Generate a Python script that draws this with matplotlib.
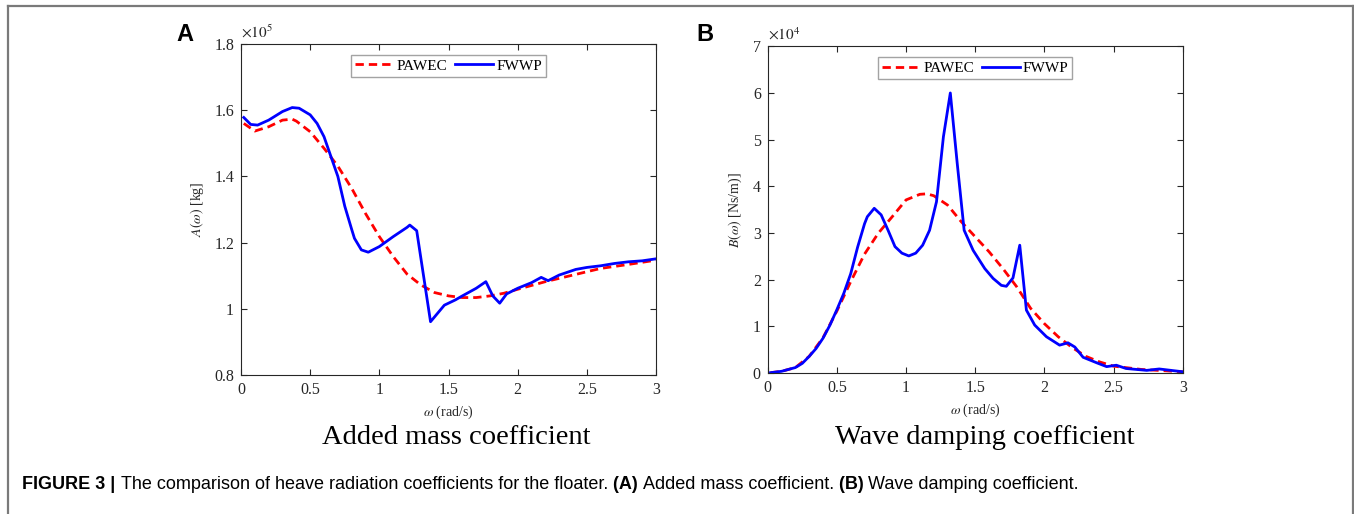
import matplotlib
matplotlib.use("Agg")
import matplotlib.pyplot as plt
from matplotlib.lines import Line2D

plt.rcParams["mathtext.fontset"] = "stix"

# Panel A: added mass, values in units of 1e5 kg
a_fwwp_w = [0.02, 0.07, 0.12, 0.2, 0.3, 0.37, 0.42, 0.5, 0.55, 0.6, 0.65, 0.7, 0.75, 0.8,
            0.82, 0.87, 0.92, 1.0, 1.1, 1.2, 1.22, 1.27, 1.37, 1.42, 1.47, 1.55, 1.6, 1.7,
            1.77, 1.82, 1.87, 1.92, 2.0, 2.1, 2.17, 2.22, 2.3, 2.42, 2.5, 2.6, 2.7, 2.8,
            2.9, 3.0]
a_fwwp = [1.578, 1.557, 1.555, 1.570, 1.596, 1.608, 1.606, 1.586, 1.560, 1.520, 1.460,
          1.400, 1.310, 1.240, 1.213, 1.178, 1.171, 1.188, 1.218, 1.246, 1.253, 1.236,
          0.961, 0.986, 1.011, 1.027, 1.039, 1.062, 1.082, 1.039, 1.017, 1.045, 1.062,
          1.079, 1.095, 1.085, 1.102, 1.119, 1.125, 1.130, 1.137, 1.142, 1.145, 1.151]
a_pawec_w = [0.02, 0.1, 0.2, 0.3, 0.37, 0.4, 0.5, 0.6, 0.7, 0.8, 0.9, 1.0, 1.1, 1.2, 1.3,
             1.4, 1.5, 1.6, 1.7, 1.8, 1.9, 2.0, 2.2, 2.4, 2.6, 2.8, 3.0]
a_pawec = [1.560, 1.537, 1.550, 1.570, 1.573, 1.567, 1.535, 1.485, 1.431, 1.364, 1.288,
           1.218, 1.158, 1.105, 1.072, 1.049, 1.039, 1.034, 1.034, 1.039, 1.047, 1.059,
           1.082, 1.102, 1.122, 1.134, 1.147]

# Panel B: wave damping, values in units of 1e4 Ns/m
b_fwwp_w = [0.02, 0.1, 0.2, 0.25, 0.3, 0.35, 0.4, 0.45, 0.5, 0.55, 0.6, 0.65, 0.7, 0.72,
            0.77, 0.82, 0.87, 0.92, 0.97, 1.02, 1.07, 1.12, 1.17, 1.22, 1.27, 1.32, 1.37,
            1.42, 1.485, 1.569, 1.629, 1.689, 1.725, 1.773, 1.822, 1.87, 1.93, 2.015,
            2.11, 2.17, 2.22, 2.28, 2.38, 2.45, 2.52, 2.59, 2.74, 2.83, 3.0]
b_fwwp = [0.01, 0.04, 0.12, 0.21, 0.36, 0.53, 0.75, 1.03, 1.36, 1.71, 2.13, 2.7, 3.2,
          3.35, 3.53, 3.39, 3.06, 2.71, 2.57, 2.51, 2.57, 2.74, 3.06, 3.67, 5.06, 6.0,
          4.49, 3.06, 2.63, 2.24, 2.03, 1.88, 1.86, 2.04, 2.74, 1.35, 1.03, 0.78, 0.60,
          0.65, 0.56, 0.34, 0.22, 0.14, 0.17, 0.10, 0.06, 0.09, 0.03]
b_pawec_w = [0.02, 0.1, 0.2, 0.3, 0.4, 0.5, 0.6, 0.7, 0.8, 0.9, 1.0, 1.1, 1.15, 1.2, 1.3,
             1.4, 1.5, 1.6, 1.7, 1.8, 1.9, 2.0, 2.1, 2.2, 2.3, 2.4, 2.5, 2.7, 3.0]
b_pawec = [0.01, 0.04, 0.12, 0.36, 0.76, 1.33, 1.96, 2.55, 3.0, 3.35, 3.71, 3.83, 3.84,
           3.8, 3.6, 3.24, 2.92, 2.6, 2.24, 1.85, 1.39, 1.06, 0.78, 0.55, 0.36, 0.24,
           0.15, 0.08, 0.03]

x_ticks = [0, 0.5, 1, 1.5, 2, 2.5, 3]
x_tick_labels = ["0", "0.5", "1", "1.5", "2", "2.5", "3"]
a_ticks = [0.8, 1.0, 1.2, 1.4, 1.6, 1.8]
a_tick_labels = ["0.8", "1", "1.2", "1.4", "1.6", "1.8"]
b_ticks = [0, 1, 2, 3, 4, 5, 6, 7]
b_tick_labels = ["0", "1", "2", "3", "4", "5", "6", "7"]

caption = "The comparison of heave radiation coefficients for the floater. "

serif = "Liberation Serif"
sans = "Liberation Sans"
axcol = "#262626"

fig = plt.figure(figsize=(13.54, 5.14), dpi=100)


def style_axes(ax, yticks, ylabels, ylim):
    ax.set_xlim(0, 3)
    ax.set_ylim(*ylim)
    ax.set_xticks(x_ticks)
    ax.set_xticklabels(x_tick_labels, family=serif, fontsize=11.5, color=axcol)
    ax.set_yticks(yticks)
    ax.set_yticklabels(ylabels, family=serif, fontsize=11.5, color=axcol)
    ax.tick_params(direction="in", top=True, right=True, length=4, width=0.8,
                   color=axcol, pad=5)
    for s in ax.spines.values():
        s.set_color(axcol)
        s.set_linewidth(0.8)


def add_legend(ax):
    leg = ax.legend(loc="upper center", bbox_to_anchor=(0.5, 0.98), ncol=2,
                    prop={"family": serif, "size": 11}, frameon=True, fancybox=False,
                    handlelength=2.5, handletextpad=0.2, columnspacing=0.5,
                    borderpad=0.25, borderaxespad=0.3)
    leg.get_frame().set_edgecolor("#8c8c8c")
    leg.get_frame().set_linewidth(1.0)


# Panel A
axA = fig.add_axes([0.178, 0.2704, 0.3065, 0.644])
axA.plot(a_pawec_w, a_pawec, color="red", ls=(0, (3, 1.8)), lw=2.0, label="PAWEC")
axA.plot(a_fwwp_w, a_fwwp, color="#0000ff", lw=2.0, label="FWWP")
style_axes(axA, a_ticks, a_tick_labels, (0.8, 1.8))
axA.set_xlabel(r"$\omega$ (rad/s)", family=serif, fontsize=10, color=axcol, labelpad=4)
axA.set_ylabel(r"$A(\omega)$ [kg]", family=serif, fontsize=10, color=axcol, labelpad=6)
axA.text(0.0, 1.01, r"$\times10^5$", transform=axA.transAxes, family=serif,
         fontsize=11, color=axcol, va="bottom", ha="left")
add_legend(axA)

# Panel B
axB = fig.add_axes([0.567, 0.274, 0.3065, 0.636])
axB.plot(b_pawec_w, b_pawec, color="red", ls=(0, (3, 1.8)), lw=2.0, label="PAWEC")
axB.plot(b_fwwp_w, b_fwwp, color="#0000ff", lw=2.0, label="FWWP")
style_axes(axB, b_ticks, b_tick_labels, (0, 7))
axB.set_xlabel(r"$\omega$ (rad/s)", family=serif, fontsize=10, color=axcol, labelpad=4)
axB.set_ylabel(r"$B(\omega)$ [Ns/m)]", family=serif, fontsize=10, color=axcol, labelpad=6)
axB.text(0.0, 1.01, r"$\times10^4$", transform=axB.transAxes, family=serif,
         fontsize=11, color=axcol, va="bottom", ha="left")
add_legend(axB)

# subplot titles under the axes
fig.text(0.337, 0.148, "Added mass coefficient", family=serif, fontsize=20.5,
         ha="center", va="center")
fig.text(0.7275, 0.148, "Wave damping coefficient", family=serif, fontsize=20.5,
         ha="center", va="center")

# panel letters
fig.text(0.130, 0.932, "A", family=sans, fontsize=17, weight="bold", ha="left", va="center")
fig.text(0.514, 0.932, "B", family=sans, fontsize=17, weight="bold", ha="left", va="center")

# caption
cap_size = 13
t = fig.text(0.0165, 0.058, "FIGURE 3 | ", family=sans, fontsize=cap_size, weight="bold",
             va="center", ha="left")
fig.canvas.draw()
r = fig.canvas.get_renderer()
x = t.get_window_extent(r).x1 / fig.bbox.width
parts = [(caption, "normal"), ("(A) ", "bold"), ("Added mass coefficient. ", "normal"),
         ("(B) ", "bold"), ("Wave damping coefficient.", "normal")]
for txt, w in parts:
    tt = fig.text(x, 0.058, txt, family=sans, fontsize=cap_size, weight=w,
                  va="center", ha="left")
    fig.canvas.draw()
    x = tt.get_window_extent(r).x1 / fig.bbox.width

# outer frame (open at bottom)
fc = "#7a7a7a"
fig.add_artist(Line2D([0.006, 0.006], [0.0, 0.988], transform=fig.transFigure, color=fc, lw=1.6))
fig.add_artist(Line2D([0.006, 0.999], [0.988, 0.988], transform=fig.transFigure, color=fc, lw=1.6))
fig.add_artist(Line2D([0.999, 0.999], [0.0, 0.988], transform=fig.transFigure, color=fc, lw=1.6))

fig.savefig("out.png", dpi=100)
